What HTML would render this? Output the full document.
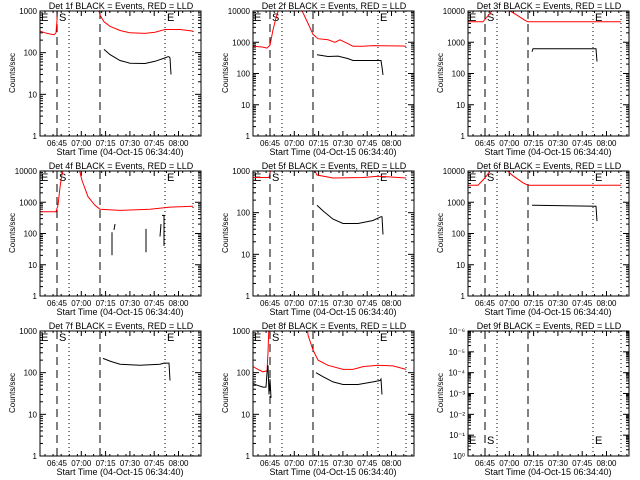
<!DOCTYPE html>
<html><head><meta charset="utf-8"><style>
body{margin:0;background:#fff}
svg{display:block}
text{font-family:"Liberation Sans",sans-serif;fill:#000}
</style></head><body>
<svg id="s" width="640" height="480" xmlns="http://www.w3.org/2000/svg">
<text x="121" y="9" font-size="9" text-anchor="middle">Det 1f BLACK = Events, RED = LLD</text>
<text x="334" y="9" font-size="9" text-anchor="middle">Det 2f BLACK = Events, RED = LLD</text>
<text x="549" y="9" font-size="9" text-anchor="middle">Det 3f BLACK = Events, RED = LLD</text>
<text x="121" y="169" font-size="9" text-anchor="middle">Det 4f BLACK = Events, RED = LLD</text>
<text x="334" y="169" font-size="9" text-anchor="middle">Det 5f BLACK = Events, RED = LLD</text>
<text x="549" y="169" font-size="9" text-anchor="middle">Det 6f BLACK = Events, RED = LLD</text>
<text x="121" y="329" font-size="9" text-anchor="middle">Det 7f BLACK = Events, RED = LLD</text>
<text x="334" y="329" font-size="9" text-anchor="middle">Det 8f BLACK = Events, RED = LLD</text>
<text x="549" y="329" font-size="9" text-anchor="middle">Det 9f BLACK = Events, RED = LLD</text>
</svg>
<script>
var S=document.getElementById('s'),out='';
var X0=40,X1=201,Y0=11,Y1=136;
var cols=[0,213,428],rows=[0,160,320];
var lab1=['1','10','100','1000'],lab2=['1','10','100','1000','10000'];
var lab9=['10\u2070','10\u207B\u00B9','10\u207B\u00B2','10\u207B\u00B3','10\u207B\u2074','10\u207B\u2075','10\u207B\u2076'];
var times=['06:45','07:00','07:15','07:30','07:45','08:00'];
var D=[
{n:3,r:[[[40,330],[45,300],[50,280],[54,270],[56,300],[57,600],[58,1500]],[[97,1500],[100,800],[104,550],[110,430],[120,340],[130,300],[145,290],[155,310],[165,360],[180,360],[193,330]]],
 b:[[[104,120],[110,90],[120,65],[130,56],[145,55],[155,62],[165,75],[168,80],[169,80],[170,75],[171,30]]]},
{n:4,r:[[[40,750],[50,700],[54,650],[57,800],[60,2500],[63,6000],[66,12000]],[[88,12000],[95,4000],[100,1800],[105,1300],[115,1200],[122,1000],[127,1200],[135,900],[140,750],[150,740],[160,780],[190,760],[193,750]]],
 b:[[[104,400],[115,350],[125,360],[135,300],[140,260],[160,260],[168,260],[169,160],[170,90]]]},
{n:4,r:[[[40,4500],[50,4500],[55,4500],[60,7000],[65,11000]],[[80,11000],[90,7000],[97,5000],[100,4500],[193,4500]]],
 b:[[[104,500],[105,620],[168,620],[169,240]]]},
{n:4,r:[[[40,500],[56,500],[58,800],[60,3000],[62,8000],[64,12000]],[[79,12000],[82,5000],[88,1500],[95,800],[100,600],[120,550],[150,600],[170,700],[193,750]]],
 b:[[[112,20],[112,110]],[[114,130],[115,200]],[[146,25],[146,140]],[[160,80],[161,200]],[[162,380],[164,380],[164,40]]]},
{n:3,r:[[[40,700],[56,700],[58,1200]],[[100,1200],[104,800],[120,680],[150,700],[165,750],[193,680]]],
 b:[[[104,150],[110,110],[120,70],[130,55],[145,55],[160,65],[168,80],[169,80],[170,30]]]},
{n:4,r:[[[40,3500],[50,3500],[57,6000],[63,11000]],[[78,11000],[85,7000],[95,4200],[100,3500],[193,3500]]],
 b:[[[104,800],[106,800],[168,750],[169,250]]]},
{n:3,r:[],b:[[[103,220],[110,190],[120,160],[140,150],[160,160],[164,170],[169,170],[170,65]]]},
{n:3,r:[[[40,140],[45,120],[50,105],[54,110],[55,300],[56,1500]],[[94,1500],[95,800],[100,350],[105,200],[115,150],[130,120],[140,120],[150,140],[165,150],[180,145],[193,120]]],
 b:[[[40,55],[44,50],[50,45],[53,45],[54,100],[55,150],[56,30],[57,70],[58,25]],[[103,100],[110,80],[120,60],[130,52],[145,52],[160,60],[167,65],[168,70],[169,30]]]},
{n:6,r:[],b:[]}
];
D.forEach(function(d,i){
 var ox=cols[i%3],oy=rows[Math.floor(i/3)];
 var g='<g transform="translate('+ox+','+oy+')">';
 g+='<clipPath id="c'+i+'"><rect x="'+X0+'" y="'+Y0+'" width="'+(X1-X0)+'" height="'+(Y1-Y0)+'"/></clipPath>';
 var Y=function(v){return Y1-Math.log10(v)/d.n*(Y1-Y0);};
 var labs=i==8?lab9:(d.n==3?lab1:lab2);
 for(var k=0;k<=d.n;k++){
  var yy=Y1-k/d.n*(Y1-Y0);
  g+='<line x1="'+X0+'" x2="'+(X0+6)+'" y1="'+yy+'" y2="'+yy+'" stroke="#000"/><line x1="'+(X1-6)+'" x2="'+X1+'" y1="'+yy+'" y2="'+yy+'" stroke="#000"/>';
  g+='<text x="'+(X0-3)+'" y="'+(yy+3)+'" font-size="8" text-anchor="end">'+labs[k]+'</text>';
  if(k<d.n)for(var m=2;m<10;m++){var ym=yy-Math.log10(m)/d.n*(Y1-Y0);
   g+='<line x1="'+X0+'" x2="'+(X0+3)+'" y1="'+ym+'" y2="'+ym+'" stroke="#000"/><line x1="'+(X1-3)+'" x2="'+X1+'" y1="'+ym+'" y2="'+ym+'" stroke="#000"/>';}
 }
 for(var t=0;t<6;t++){var xx=57+t*24.3;
  g+='<line x1="'+xx+'" x2="'+xx+'" y1="'+Y1+'" y2="'+(Y1-5)+'" stroke="#000"/><line x1="'+xx+'" x2="'+xx+'" y1="'+Y0+'" y2="'+(Y0+5)+'" stroke="#000"/>';
  g+='<text x="'+xx+'" y="146" font-size="8" text-anchor="middle">'+times[t]+'</text>';}
 for(var xm=45;xm<X1;xm+=8.1){g+='<line x1="'+xm+'" x2="'+xm+'" y1="'+Y1+'" y2="'+(Y1-2)+'" stroke="#000"/><line x1="'+xm+'" x2="'+xm+'" y1="'+Y0+'" y2="'+(Y0+2)+'" stroke="#000"/>';}
 g+='<text x="120" y="155" font-size="9" text-anchor="middle">Start Time (04-Oct-15 06:34:40)</text>';
 g+='<text transform="translate(15,73) rotate(-90)" font-size="8" text-anchor="middle">Counts/sec</text>';
 g+='<line x1="57" x2="57" y1="'+Y0+'" y2="'+Y1+'" stroke="#000" stroke-dasharray="8,5"/>';
 g+='<line x1="100" x2="100" y1="'+Y0+'" y2="'+Y1+'" stroke="#000" stroke-dasharray="8,5"/>';
 [69,165,193].forEach(function(x){g+='<line x1="'+x+'" x2="'+x+'" y1="'+Y0+'" y2="'+Y1+'" stroke="#000" stroke-dasharray="1,3"/>';});
 var ly=i==8?124:21;
 g+='<text x="41" y="'+ly+'" font-size="11">E</text><text x="59" y="'+ly+'" font-size="11">S</text><text x="167" y="'+ly+'" font-size="11">E</text>';
 var pl=function(arr,col){arr.forEach(function(p){g+='<polyline clip-path="url(#c'+i+')" fill="none" stroke="'+col+'" stroke-width="1" points="'+p.map(function(q){return q[0]+','+Y(q[1]).toFixed(1);}).join(' ')+'"/>';});};
 pl(d.r,'#f00');pl(d.b,'#000');
 g+='<rect x="'+X0+'" y="'+Y0+'" width="'+(X1-X0)+'" height="'+(Y1-Y0)+'" fill="none" stroke="#000"/>';
 g+='</g>';out+=g;
});
S.insertAdjacentHTML('beforeend',out);
</script>
</body></html>
